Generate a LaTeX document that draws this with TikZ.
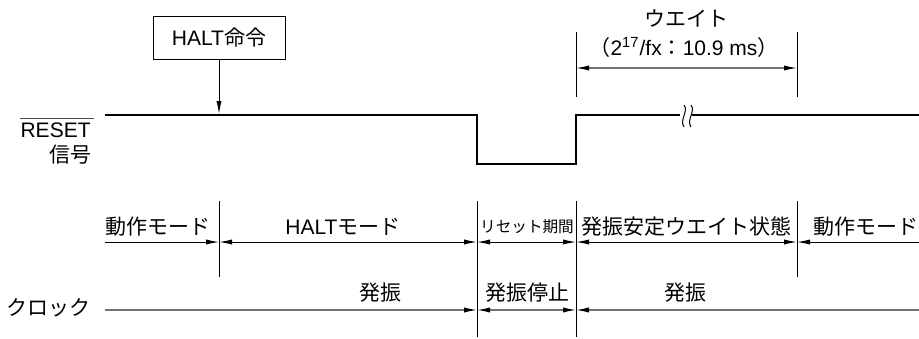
\documentclass[tikz,border=0pt]{standalone}
\usepackage{fontspec}
\setmainfont{Liberation Sans}
\newfontfamily\jp{Noto Sans CJK JP}
\usetikzlibrary{arrows.meta}

\begin{document}
\begin{tikzpicture}[x=0.5pt,y=-0.5pt,
                    >={Latex[length=6.5pt,width=2.6pt,black]},
                    every node/.style={font=\fontsize{10.5}{12}\selectfont,inner sep=0pt},
                    level/.style={line width=1.25pt},
                    thin line/.style={line width=0.5pt},
                    grey line/.style={line width=0.6pt,draw=black!55}]
  \useasboundingbox (0,0) rectangle (919,338);

  % RESET signal
  \node[anchor=east] (rst) at (91,130) {RESET};
  \draw[thin line,black!70] ([yshift=1.6pt]rst.north west) -- ([yshift=1.6pt,xshift=1.5pt]rst.north east);
  \node[anchor=east] (rstsub) at (92,155) {\jp 信号};
  \draw[level] (105,115) -- (477,115) -- (477,164) -- (576,164) -- (576,115) -- (680,115);
  \draw[level] (692,115) -- (919,115);
  \draw[thin line] (684,105) .. controls (689,111) and (679,120) .. (684,127);
  \draw[thin line] (691,105) .. controls (696,111) and (686,120) .. (691,127);

  % HALT instruction
  \node[draw,thin line,minimum width=66pt,minimum height=21.5pt] (halt) at (219,37.5) {HALT{\jp 命令}};
  \coordinate (haltin) at (219,114);
  \draw[thin line,->] (halt) -- (haltin);

  % wait time
  \draw[thin line] (576,32) -- (576,97);
  \draw[thin line] (797,32) -- (797,97);
  \coordinate (wl) at (576,68);
  \coordinate (wr) at (797,68);
  \draw[grey line,<->] (wl) -- (wr);
  \node (wait) at (686,18) {\jp ウエイト};
  \node (waitval) at (684,47) {{\jp （}2\textsuperscript{17}/fx{\jp ：}10.9 ms{\jp ）}};

  % mode boundaries
  \draw[thin line] (219,201) -- (219,277);
  \draw[thin line] (477,201) -- (477,337);
  \draw[thin line] (576,201) -- (576,337);
  \draw[thin line] (797,201) -- (797,277);

  % mode row
  \draw[thin line,->]  (105,242) -- (219,242);
  \draw[thin line,<->] (219,242) -- (477,242);
  \draw[thin line,<->] (477,242) -- (576,242);
  \draw[thin line,<->] (576,242) -- (797,242);
  \draw[thin line,<-]  (797,242) -- (919,242);
  \node (run1) at (158,227) {\jp 動作モード};
  \node (haltm) at (343,227) {HALT{\jp モード}};
  \node[font=\fontsize{7.8}{9}\selectfont] (rstp) at (527,227) {\jp リセット期間};
  \node (osc) at (686,227) {\jp 発振安定ウエイト状態};
  \node (run2) at (866,227) {\jp 動作モード};

  % clock row
  \node[anchor=east] (clk) at (91,308) {\jp クロック};
  \draw[grey line,->]  (105,310) -- (477,310);
  \draw[grey line,<->] (477,310) -- (576,310);
  \draw[grey line,<-]  (576,310) -- (919,310);
  \node (on1) at (380,293) {\jp 発振};
  \node (off) at (527,293) {\jp 発振停止};
  \node (on2) at (685,293) {\jp 発振};
\end{tikzpicture}
\end{document}
